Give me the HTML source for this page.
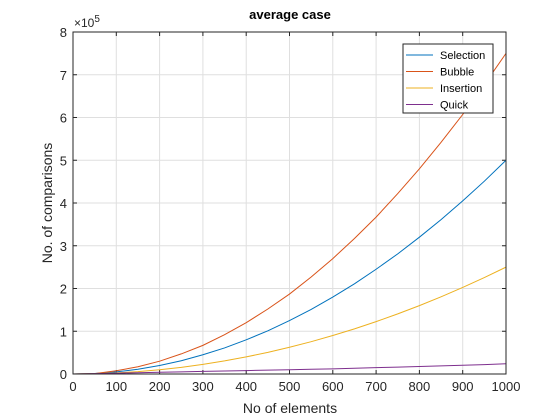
<!DOCTYPE html>
<html><head><meta charset="utf-8"><style>
body{margin:0;background:#fff;width:560px;height:420px;overflow:hidden}
svg{display:block;font-family:"Liberation Sans",Arial,sans-serif}
</style></head><body>
<svg id="c" width="560" height="420"></svg>
<script>
const xTicks=[0,100,200,300,400,500,600,700,800,900,1000];
const yTicks=[0,1,2,3,4,5,6,7,8];
const xs=[0,50,100,150,200,250,300,350,400,450,500,550,600,650,700,750,800,850,900,950,1000];
const selection=[0,0.012,0.05,0.11,0.2,0.31,0.45,0.61,0.8,1.01,1.25,1.51,1.8,2.11,2.45,2.81,3.2,3.61,4.05,4.51,5.0];
const bubble=[0,0.01,0.075,0.17,0.3,0.47,0.67,0.92,1.2,1.52,1.87,2.27,2.7,3.17,3.67,4.22,4.8,5.42,6.07,6.77,7.5];
const insertion=[0,0.006,0.025,0.056,0.1,0.156,0.225,0.306,0.4,0.506,0.625,0.756,0.9,1.056,1.225,1.406,1.6,1.806,2.025,2.256,2.5];
const quick=[0,0.008,0.019,0.03,0.04,0.05,0.06,0.07,0.08,0.09,0.1,0.11,0.12,0.135,0.15,0.16,0.175,0.19,0.205,0.22,0.24];
const seriesNames=["Selection","Bubble","Insertion","Quick"];
const L=73,R=506,T=32,B=374;
const X=v=>L+(v-0)/1000*(R-L), Y=v=>B-v/8*(B-T);
const svg=document.getElementById('c'),NS='http://www.w3.org/2000/svg';
function mk(t,a,p){const e=document.createElementNS(NS,t);for(const k in a)e.setAttribute(k,a[k]);(p||svg).appendChild(e);return e;}
mk('rect',{x:L,y:T,width:R-L,height:B-T,fill:'#fff'});
xTicks.forEach(v=>{const x=X(v);
 const g=mk('line',{x1:x,x2:x,y1:T,y2:B,stroke:'#dfdfdf','stroke-width':1});
 
 mk('line',{x1:x,x2:x,y1:B,y2:B-4,stroke:'#262626'});mk('line',{x1:x,x2:x,y1:T,y2:T+4,stroke:'#262626'});
 const t=mk('text',{x:x,y:B+17,'text-anchor':'middle','font-size':13,fill:'#262626'});t.textContent=v;
 });
yTicks.forEach(v=>{const y=Y(v);
 const g=mk('line',{x1:L,x2:R,y1:y,y2:y,stroke:'#dfdfdf','stroke-width':1});
 
 mk('line',{x1:L,x2:L+4,y1:y,y2:y,stroke:'#262626'});mk('line',{x1:R,x2:R-4,y1:y,y2:y,stroke:'#262626'});
 const t=mk('text',{x:L-6,y:y+5,'text-anchor':'end','font-size':13,fill:'#262626'});t.textContent=v;
 });
const colors=['#0072bd','#d95319','#edb120','#7e2f8e'];
[selection,bubble,insertion,quick].forEach((s,i)=>{
 const p=mk('polyline',{points:s.map((v,j)=>X(xs[j])+','+Y(v)).join(' '),fill:'none',stroke:colors[i],'stroke-width':1});
 });
const ax=mk('rect',{x:L,y:T,width:R-L,height:B-T,fill:'none',stroke:'#262626'});

const lg=mk('g',{});
mk('rect',{x:403,y:44,width:90,height:69,fill:'#fff',stroke:'#262626'},lg);
seriesNames.forEach((n,i)=>{const y=55+i*16.5;
 mk('line',{x1:406,x2:433,y1:y,y2:y,stroke:colors[i]},lg);
 const t=mk('text',{x:440,y:y+4,'font-size':11,fill:'#000'},lg);t.textContent=n;
 });
let t=mk('text',{x:290,y:19,'text-anchor':'middle','font-size':13,'font-weight':'bold',fill:'#000'});t.textContent='average case';

t=mk('text',{x:290,y:413,'text-anchor':'middle','font-size':14,fill:'#262626'});t.textContent='No of elements';

t=mk('text',{x:0,y:0,'text-anchor':'middle','font-size':14,fill:'#262626',transform:'translate(52,203) rotate(-90)'});t.textContent='No. of comparisons';

t=mk('text',{x:74,y:27,'font-size':12,fill:'#262626'});t.innerHTML='×10<tspan dy="-5" font-size="10">5</tspan>';

</script>
</body></html>
